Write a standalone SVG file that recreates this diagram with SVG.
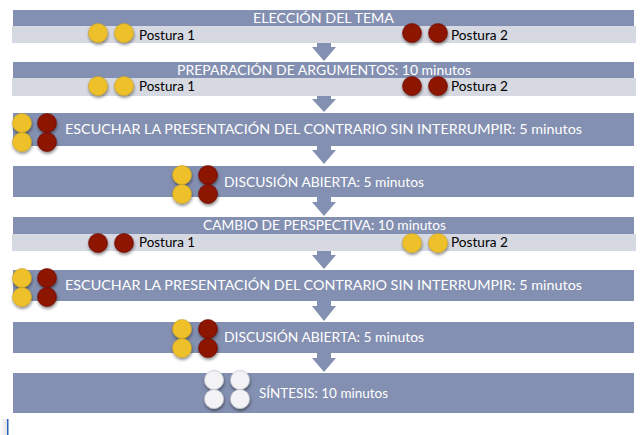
<svg xmlns="http://www.w3.org/2000/svg" width="641" height="435" viewBox="0 0 641 435">
<style>
.hdr{fill:#8490B1}
.sub{fill:#D6D9E1}
.tw{font-family:Lato,"Open Sans",sans-serif;font-size:13.5px;fill:#FFFFFF}
.tb{font-family:Lato,"Open Sans",sans-serif;font-size:13.5px;fill:#000000}
.arr{fill:#8490B1}
.y{fill:#EEC12A;stroke:#C9A020;stroke-width:0.6;filter:url(#sh)}
.r{fill:#8D1200;stroke:#6A0D00;stroke-width:0.6;filter:url(#sh)}
.w{fill:#F3F3F5;stroke:#C8CAD2;stroke-width:0.8;filter:url(#sh)}
</style>
<defs>
<filter id="sh" x="-50%" y="-50%" width="200%" height="220%">
<feDropShadow dx="0.5" dy="2" stdDeviation="1.4" flood-color="#000" flood-opacity="0.45"/>
</filter>
<linearGradient id="lg" x1="0" y1="0" x2="1" y2="0">
<stop offset="0" stop-color="#FFFFFF"/>
<stop offset="1" stop-color="#E2E2E2"/>
</linearGradient>
</defs>
<rect x="0" y="0" width="641" height="435" fill="#FFFFFF"/>

<g id="connectors">
<polygon class="arr" points="317,43 331,43 331,47 336,47 324,61 312,47 317,47"/>
<polygon class="arr" points="317,96 331,96 331,99 336,99 324,112 312,99 317,99"/>
<polygon class="arr" points="317,146 331,146 331,150 336,150 324,164 312,150 317,150"/>
<polygon class="arr" points="317,197 331,197 331,202 336,202 324,216 312,202 317,202"/>
<polygon class="arr" points="317,251 331,251 331,255 336,255 324,269 312,255 317,255"/>
<polygon class="arr" points="317,301 331,301 331,306 336,306 324,321 312,306 317,306"/>
<polygon class="arr" points="317,353 331,353 331,358 336,358 324,372 312,358 317,358"/>
</g>

<g id="n1">
<rect class="hdr" x="13" y="10" width="621" height="16"/>
<rect class="sub" x="12" y="26" width="624" height="17"/>
<text class="tw" x="253" y="23" textLength="141" lengthAdjust="spacingAndGlyphs">ELECCIÓN DEL TEMA</text>
<circle class="y" cx="98" cy="33" r="9.5"/>
<circle class="y" cx="124" cy="33" r="9.5"/>
<text class="tb" x="139" y="40" textLength="56" lengthAdjust="spacingAndGlyphs">Postura 1</text>
<circle class="r" cx="412" cy="33" r="9.5"/>
<circle class="r" cx="438" cy="33" r="9.5"/>
<text class="tb" x="451" y="40" textLength="57" lengthAdjust="spacingAndGlyphs">Postura 2</text>
</g>

<g id="n2">
<rect class="hdr" x="13" y="62" width="621" height="16"/>
<rect class="sub" x="12" y="78" width="624" height="18"/>
<text class="tw" x="177" y="75" textLength="294" lengthAdjust="spacingAndGlyphs">PREPARACIÓN DE ARGUMENTOS: 10 minutos</text>
<circle class="y" cx="98" cy="86" r="9.5"/>
<circle class="y" cx="124" cy="86" r="9.5"/>
<text class="tb" x="139" y="91" textLength="56" lengthAdjust="spacingAndGlyphs">Postura 1</text>
<circle class="r" cx="412" cy="86" r="9.5"/>
<circle class="r" cx="438" cy="86" r="9.5"/>
<text class="tb" x="451" y="91" textLength="57" lengthAdjust="spacingAndGlyphs">Postura 2</text>
</g>

<g id="n3">
<rect class="hdr" x="13" y="113" width="621" height="33"/>
<circle class="y" cx="22" cy="123" r="9.5"/>
<circle class="r" cx="47" cy="123" r="9.5"/>
<circle class="y" cx="22" cy="142" r="9.5"/>
<circle class="r" cx="47" cy="142" r="9.5"/>
<text class="tw" x="65" y="134" textLength="517" lengthAdjust="spacingAndGlyphs">ESCUCHAR LA PRESENTACIÓN DEL CONTRARIO SIN INTERRUMPIR: 5 minutos</text>
</g>

<g id="n4">
<rect class="hdr" x="13" y="166" width="621" height="31"/>
<circle class="y" cx="182" cy="175" r="9.5"/>
<circle class="r" cx="208" cy="175" r="9.5"/>
<circle class="y" cx="182" cy="194" r="9.5"/>
<circle class="r" cx="208" cy="194" r="9.5"/>
<text class="tw" x="224" y="187" textLength="200" lengthAdjust="spacingAndGlyphs">DISCUSIÓN ABIERTA: 5 minutos</text>
</g>

<g id="n5">
<rect class="hdr" x="13" y="217" width="621" height="17"/>
<rect class="sub" x="12" y="234" width="624" height="17"/>
<text class="tw" x="203" y="230" textLength="243" lengthAdjust="spacingAndGlyphs">CAMBIO DE PERSPECTIVA: 10 minutos</text>
<circle class="r" cx="98" cy="243" r="9.5"/>
<circle class="r" cx="124" cy="243" r="9.5"/>
<text class="tb" x="139" y="247" textLength="56" lengthAdjust="spacingAndGlyphs">Postura 1</text>
<circle class="y" cx="412" cy="243" r="9.5"/>
<circle class="y" cx="438" cy="243" r="9.5"/>
<text class="tb" x="451" y="247" textLength="57" lengthAdjust="spacingAndGlyphs">Postura 2</text>
</g>

<g id="n6">
<rect class="hdr" x="13" y="270" width="621" height="31"/>
<circle class="y" cx="22" cy="278" r="9.5"/>
<circle class="r" cx="47" cy="278" r="9.5"/>
<circle class="y" cx="22" cy="297" r="9.5"/>
<circle class="r" cx="47" cy="297" r="9.5"/>
<text class="tw" x="65" y="290" textLength="517" lengthAdjust="spacingAndGlyphs">ESCUCHAR LA PRESENTACIÓN DEL CONTRARIO SIN INTERRUMPIR: 5 minutos</text>
</g>

<g id="n7">
<rect class="hdr" x="13" y="322" width="621" height="31"/>
<circle class="y" cx="182" cy="329" r="9.5"/>
<circle class="r" cx="208" cy="329" r="9.5"/>
<circle class="y" cx="182" cy="348" r="9.5"/>
<circle class="r" cx="208" cy="348" r="9.5"/>
<text class="tw" x="224" y="342" textLength="200" lengthAdjust="spacingAndGlyphs">DISCUSIÓN ABIERTA: 5 minutos</text>
</g>

<g id="n8">
<rect class="hdr" x="13" y="373" width="621" height="40"/>
<circle class="w" cx="214" cy="380" r="9.5"/>
<circle class="w" cx="240" cy="380" r="9.5"/>
<circle class="w" cx="214" cy="399" r="9.5"/>
<circle class="w" cx="240" cy="399" r="9.5"/>
<text class="tw" x="259" y="398" textLength="129" lengthAdjust="spacingAndGlyphs">SÍNTESIS: 10 minutos</text>
</g>

<rect x="0" y="419" width="7" height="16" fill="url(#lg)"/>
<rect x="7" y="419" width="1.5" height="16" fill="#2A62C0"/>
</svg>
